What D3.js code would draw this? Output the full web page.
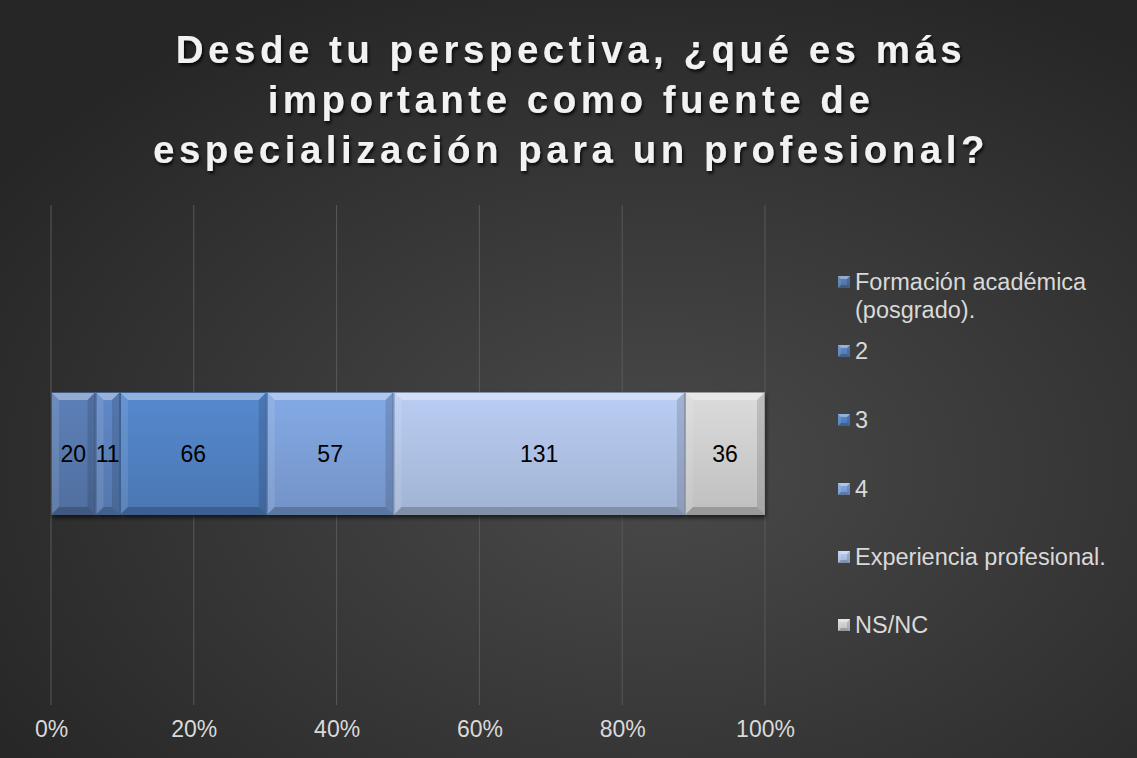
<!DOCTYPE html>
<html>
<head>
<meta charset="utf-8">
<script src="https://cdn.jsdelivr.net/npm/d3@7"></script>
<style>
  body { margin: 0; background: #2b2b2b; }
  svg { display: block; }
</style>
</head>
<body>
<div id="chart"></div>
<script>
// data
var categories = ["Formación académica (posgrado).", "2", "3", "4", "Experiencia profesional.", "NS/NC"];
var legendLines = [["Formación académica", "(posgrado)."], ["2"], ["3"], ["4"], ["Experiencia profesional."], ["NS/NC"]];
var values = [20, 11, 66, 57, 131, 36];
var tickLabels = ["0%", "20%", "40%", "60%", "80%", "100%"];
var colors = ["#5677ab", "#5a80ba", "#4f80c0", "#7b9ed6", "#adc0e3", "#cdcdcd"];

var svgWidth = 1137;
var svgHeight = 758;

var svg = d3.select("#chart")
    .append("svg")
    .attr("width", svgWidth)
    .attr("height", svgHeight);

var defs = svg.append("defs");

// background
var bg = defs.append("radialGradient")
    .attr("id", "bg")
    .attr("cx", "58%").attr("cy", "62%").attr("r", "70%");
bg.append("stop").attr("offset", "0%").attr("stop-color", "#4a4a4a");
bg.append("stop").attr("offset", "100%").attr("stop-color", "#262626");

svg.append("rect")
    .attr("width", svgWidth)
    .attr("height", svgHeight)
    .attr("fill", "url(#bg)");

var shadow = defs.append("filter").attr("id", "tshadow")
    .attr("x", "-5%").attr("y", "-20%").attr("width", "110%").attr("height", "140%");
shadow.append("feDropShadow")
    .attr("dx", 1.5).attr("dy", 2.5).attr("stdDeviation", 1.5)
    .attr("flood-color", "#000").attr("flood-opacity", 0.8);

var barShadow = defs.append("filter").attr("id", "bshadow")
    .attr("x", "-5%").attr("y", "-10%").attr("width", "110%").attr("height", "130%");
barShadow.append("feDropShadow")
    .attr("dx", 1).attr("dy", 3).attr("stdDeviation", 2)
    .attr("flood-color", "#000").attr("flood-opacity", 0.6);

// vertical gradient for each colour
colors.forEach(function(c, i) {
    var g = defs.append("linearGradient")
        .attr("id", "grad" + i)
        .attr("x1", 0).attr("y1", 0).attr("x2", 0).attr("y2", 1);
    g.append("stop").attr("offset", "0%").attr("stop-color", d3.color(c).brighter(0.2));
    g.append("stop").attr("offset", "100%").attr("stop-color", d3.color(c).darker(0.2));
});

// title
var titleLines = ["Desde tu perspectiva, ¿qué es más", "importante como fuente de", "especialización para un profesional?"];
svg.append("g")
    .attr("filter", "url(#tshadow)")
    .selectAll("text")
    .data(titleLines)
    .enter()
    .append("text")
    .attr("x", 571)
    .attr("y", (d, i) => 63 + i * 50)
    .attr("text-anchor", "middle")
    .attr("font-family", "Liberation Sans, Arial, sans-serif")
    .attr("font-weight", "bold")
    .attr("font-size", "38.5px")
    .attr("letter-spacing", "4.5px")
    .attr("fill", "#f2f2f2")
    .text(d => d);

// scales
var total = d3.sum(values);
var x = d3.scaleLinear().domain([0, 1]).range([51, 765]);
var plotTop = 205, plotBottom = 705;
var barTop = 392, barBottom = 515;

// gridlines
var tickVals = d3.range(0, 1.0001, 0.2);
svg.append("g")
    .selectAll("line")
    .data(tickVals)
    .enter()
    .append("line")
    .attr("x1", d => x(d)).attr("x2", d => x(d))
    .attr("y1", plotTop).attr("y2", plotBottom)
    .attr("stroke", "#595959")
    .attr("stroke-width", 1);

// x axis labels
var xAxis = d3.axisBottom(x)
    .tickValues(tickVals)
    .tickFormat((d, i) => tickLabels[i])
    .tickSize(0)
    .tickPadding(0);
var axisG = svg.append("g")
    .attr("transform", `translate(0, ${plotBottom + 16})`)
    .call(xAxis);
axisG.select(".domain").remove();
axisG.selectAll("text")
    .attr("font-family", "Liberation Sans, Arial, sans-serif")
    .attr("font-size", "23px")
    .attr("fill", "#d9d9d9");

// stacked segments
var segs = [];
var acc = 0;
values.forEach(function(v, i) {
    segs.push({ i: i, v: v, x0: acc / total, x1: (acc + v) / total });
    acc += v;
});

function bevel(g, x0, y0, w, h, b) {
    var x1 = x0 + w, y1 = y0 + h;
    b = Math.min(b, w / 2, h / 2);
    g.append("polygon")
        .attr("points", [[x0, y0], [x1, y0], [x1 - b, y0 + b], [x0 + b, y0 + b]].join(" "))
        .attr("fill", "#fff").attr("opacity", 0.35);
    g.append("polygon")
        .attr("points", [[x0, y0], [x0 + b, y0 + b], [x0 + b, y1 - b], [x0, y1]].join(" "))
        .attr("fill", "#fff").attr("opacity", 0.1);
    g.append("polygon")
        .attr("points", [[x0, y1], [x0 + b, y1 - b], [x1 - b, y1 - b], [x1, y1]].join(" "))
        .attr("fill", "#000").attr("opacity", 0.2);
    g.append("polygon")
        .attr("points", [[x1, y0], [x1, y1], [x1 - b, y1 - b], [x1 - b, y0 + b]].join(" "))
        .attr("fill", "#000").attr("opacity", 0.13);
}

var barG = svg.append("g");
barG.selectAll("rect.shadow")
    .data(segs)
    .enter()
    .append("rect")
    .attr("x", d => x(d.x0))
    .attr("y", barTop)
    .attr("width", d => x(d.x1) - x(d.x0))
    .attr("height", barBottom - barTop)
    .attr("fill", "#222")
    .attr("filter", "url(#bshadow)");

segs.forEach(function(d) {
    var g = barG.append("g");
    var x0 = x(d.x0), w = x(d.x1) - x(d.x0);
    g.append("rect")
        .attr("x", x0).attr("y", barTop)
        .attr("width", w).attr("height", barBottom - barTop)
        .attr("fill", "url(#grad" + d.i + ")");
    bevel(g, x0, barTop, w, barBottom - barTop, 8);
    g.append("rect")
        .attr("x", x0 + 0.5).attr("y", barTop + 0.5)
        .attr("width", w - 1).attr("height", barBottom - barTop - 1)
        .attr("fill", "none")
        .attr("stroke", d3.color(colors[d.i]).darker(0.8))
        .attr("stroke-width", 1);
});

// value labels
barG.selectAll("text")
    .data(segs)
    .enter()
    .append("text")
    .attr("x", d => (x(d.x0) + x(d.x1)) / 2)
    .attr("y", 462)
    .attr("text-anchor", "middle")
    .attr("font-family", "Liberation Sans, Arial, sans-serif")
    .attr("font-size", "23px")
    .attr("fill", "#000")
    .text(d => d.v);

// legend
var legendBase = [290, 359, 428, 497, 565, 633];
var legend = svg.append("g");
categories.forEach(function(c, i) {
    var g = legend.append("g");
    g.append("rect")
        .attr("x", 838).attr("y", legendBase[i] - 14)
        .attr("width", 12).attr("height", 12)
        .attr("fill", "url(#grad" + i + ")");
    bevel(g, 838, legendBase[i] - 14, 12, 12, 3);
    var t = g.append("text")
        .attr("x", 855)
        .attr("y", legendBase[i])
        .attr("font-family", "Liberation Sans, Arial, sans-serif")
        .attr("font-size", "23.5px")
        .attr("fill", "#d9d9d9");
    legendLines[i].forEach(function(line, j) {
        t.append("tspan")
            .attr("x", 855)
            .attr("dy", j === 0 ? 0 : 28)
            .text(line);
    });
});
</script>
</body>
</html>
